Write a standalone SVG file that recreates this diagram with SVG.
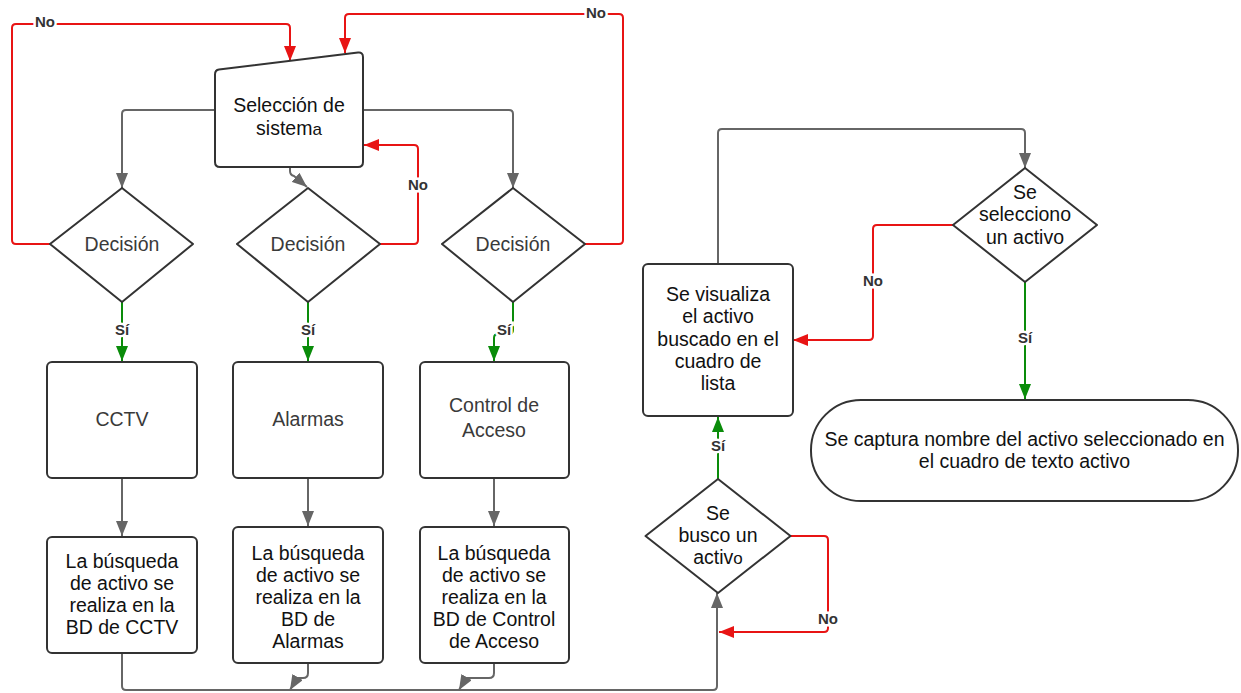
<svg xmlns="http://www.w3.org/2000/svg" width="1241" height="693" viewBox="0 0 1241 693">
<style>
.node{fill:#fff;stroke:#333;stroke-width:2;stroke-linejoin:round}
.t{font-family:"Liberation Sans",Arial,sans-serif;font-size:19.5px;fill:#111;text-anchor:middle}
.tg{fill:#3a3a3a}
.c{fill:none;stroke-width:2;stroke-linejoin:round}
.gray{stroke:#666}
.red{stroke:#e81414}
.green{stroke:#0a8c0a}
.lbl{font-family:"Liberation Sans",Arial,sans-serif;font-size:15px;font-weight:bold;fill:#333;text-anchor:middle;stroke:#fff;stroke-width:5;paint-order:stroke}
</style>
<defs>
<marker id="ag" markerUnits="userSpaceOnUse" markerWidth="15" markerHeight="12" refX="15" refY="6" orient="auto"><path d="M0,0 L15,6 L0,12 Z" fill="#666"/></marker>
<marker id="ar" markerUnits="userSpaceOnUse" markerWidth="15" markerHeight="12" refX="15" refY="6" orient="auto"><path d="M0,0 L15,6 L0,12 Z" fill="#e81414"/></marker>
<marker id="av" markerUnits="userSpaceOnUse" markerWidth="15" markerHeight="12" refX="15" refY="6" orient="auto"><path d="M0,0 L15,6 L0,12 Z" fill="#0a8c0a"/></marker>
</defs>
<rect width="1241" height="693" fill="#fff"/>

<g id="connectors">
<path class="c gray" d="M215,110 H126 Q122,110 122,114 V188" marker-end="url(#ag)"/>
<path class="c gray" d="M363,110 H509 Q513,110 513,114 V188" marker-end="url(#ag)"/>
<path class="c gray" d="M290,167 V171 Q290,175 294,176 L307,187" marker-end="url(#ag)"/>
<path class="c red" d="M50,244 H16 Q12,244 12,240 V28 Q12,24 16,24 H286 Q290,24 290,28 V61" marker-end="url(#ar)"/>
<path class="c red" d="M585,244 H619 Q623,244 623,240 V18 Q623,14 619,14 H349 Q345,14 345,18 V53" marker-end="url(#ar)"/>
<path class="c red" d="M380,244 H414 Q418,244 418,240 V149 Q418,145 414,145 H364" marker-end="url(#ar)"/>
<path class="c green" d="M122,302 V361" marker-end="url(#av)"/>
<path class="c green" d="M308,302 V361" marker-end="url(#av)"/>
<path class="c green" d="M513,302 V330 Q513,334 509,334 H498 Q494,334 494,338 V361" marker-end="url(#av)"/>
<path class="c gray" d="M122,478 V536" marker-end="url(#ag)"/>
<path class="c gray" d="M308,478 V526" marker-end="url(#ag)"/>
<path class="c gray" d="M494,478 V526" marker-end="url(#ag)"/>
<path class="c gray" d="M122,653 V686 Q122,690 126,690 H713 Q717,690 717,686 V593" marker-end="url(#ag)"/>
<path class="c gray" d="M308,663 V673 Q308,678 303,678 H297 L290,690" marker-end="url(#ag)"/>
<path class="c gray" d="M494,663 V673 Q494,678 489,678 H466 L459,690" marker-end="url(#ag)"/>
<path class="c green" d="M718,479 V417" marker-end="url(#av)"/>
<path class="c red" d="M791,536 H824 Q828,536 828,540 V628 Q828,632 824,632 H719" marker-end="url(#ar)"/>
<path class="c gray" d="M718,264 V133 Q718,129 722,129 H1021 Q1025,129 1025,133 V168" marker-end="url(#ag)"/>
<path class="c red" d="M953,225 H877 Q873,225 873,229 V336 Q873,340 869,340 H793" marker-end="url(#ar)"/>
<path class="c green" d="M1025,282 V399" marker-end="url(#av)"/>
<text class="lbl" x="45" y="27">No</text>
<text class="lbl" x="596" y="18">No</text>
<text class="lbl" x="418" y="190">No</text>
<text class="lbl" x="122" y="335">Sí</text>
<text class="lbl" x="308" y="335">Sí</text>
<text class="lbl" x="504" y="335">Sí</text>
<text class="lbl" x="718" y="451">Sí</text>
<text class="lbl" x="828" y="624">No</text>
<text class="lbl" x="873" y="286">No</text>
<text class="lbl" x="1025" y="343">Sí</text>
</g>

<g id="seleccion">
<path class="node" d="M219,69.5 L358,52.6 Q363,52 363,57 V162 Q363,167 358,167 H220 Q215,167 215,162 V74.5 Q215,70 219,69.5 Z"/>
<text class="t" x="289" y="112">Selección de</text>
<text class="t" x="289" y="135">sistem<tspan font-size="17">a</tspan></text>
</g>

<g id="decision1">
<polygon class="node" points="122,188 193,244 122,302 50,244"/>
<text class="t tg" x="122" y="251">Decisión</text>
</g>
<g id="decision2">
<polygon class="node" points="308,188 380,244 308,302 237,244"/>
<text class="t tg" x="308" y="251">Decisión</text>
</g>
<g id="decision3">
<polygon class="node" points="513,188 585,244 513,302 442,244"/>
<text class="t tg" x="513" y="251">Decisión</text>
</g>

<g id="cctv">
<rect class="node" x="47" y="362" width="150" height="116" rx="5"/>
<text class="t tg" x="122" y="426">CCTV</text>
</g>
<g id="alarmas">
<rect class="node" x="233" y="362" width="150" height="116" rx="5"/>
<text class="t tg" x="308" y="426">Alarmas</text>
</g>
<g id="control">
<rect class="node" x="420" y="362" width="149" height="116" rx="5"/>
<text class="t tg" x="494" y="412">Control de</text>
<text class="t tg" x="494" y="437">Acceso</text>
</g>

<g id="busq-cctv">
<rect class="node" x="47" y="537" width="150" height="116" rx="5"/>
<text class="t" x="122" y="568">La búsqueda</text>
<text class="t" x="122" y="590">de activo se</text>
<text class="t" x="122" y="612">realiza en la</text>
<text class="t" x="122" y="634">BD de CCTV</text>
</g>
<g id="busq-alarmas">
<rect class="node" x="233" y="527" width="150" height="136" rx="5"/>
<text class="t" x="308" y="560">La búsqueda</text>
<text class="t" x="308" y="582">de activo se</text>
<text class="t" x="308" y="604">realiza en la</text>
<text class="t" x="308" y="626">BD de</text>
<text class="t" x="308" y="648">Alarmas</text>
</g>
<g id="busq-control">
<rect class="node" x="420" y="527" width="149" height="136" rx="5"/>
<text class="t" x="494" y="560">La búsqueda</text>
<text class="t" x="494" y="582">de activo se</text>
<text class="t" x="494" y="604">realiza en la</text>
<text class="t" x="494" y="626">BD de Control</text>
<text class="t" x="494" y="648">de Acceso</text>
</g>

<g id="busco">
<polygon class="node" points="718,479 790.5,536 718,593 645.5,536"/>
<text class="t" x="718" y="520">Se</text>
<text class="t" x="718" y="542">busco un</text>
<text class="t" x="718" y="564">activ<tspan font-size="17">o</tspan></text>
</g>

<g id="visualiza">
<rect class="node" x="643" y="264" width="150" height="152" rx="5"/>
<text class="t" x="718" y="301">Se visualiza</text>
<text class="t" x="718" y="323">el activo</text>
<text class="t" x="718" y="346">buscado en el</text>
<text class="t" x="718" y="368">cuadro de</text>
<text class="t" x="718" y="390">lista</text>
</g>

<g id="selecciono">
<polygon class="node" points="1025,168 1097,225 1025,282 953,225"/>
<text class="t" x="1025" y="199">Se</text>
<text class="t" x="1025" y="221">selecciono</text>
<text class="t" x="1025" y="244">un activo</text>
</g>

<g id="captura">
<rect class="node" x="811" y="400" width="427" height="101" rx="50"/>
<text class="t" x="1024.5" y="446">Se captura nombre del activo seleccionado en</text>
<text class="t" x="1024.5" y="468">el cuadro de texto activo</text>
</g>
</svg>
